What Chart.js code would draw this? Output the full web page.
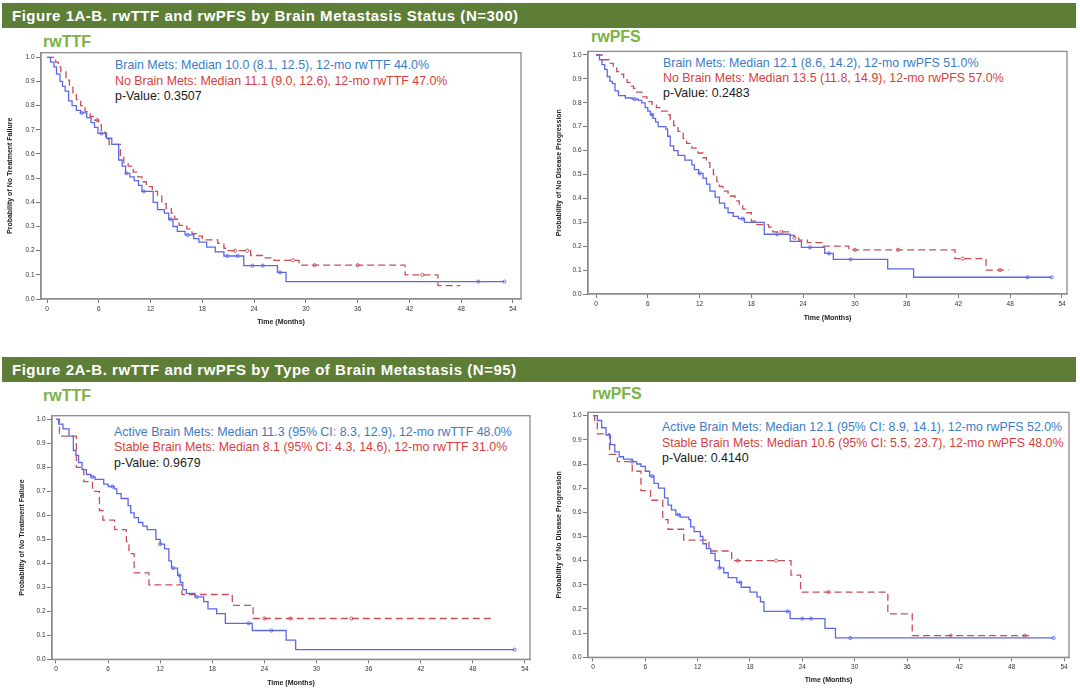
<!DOCTYPE html>
<html>
<head>
<meta charset="utf-8">
<script src="https://cdn.jsdelivr.net/npm/chart.js@4.4.1/dist/chart.umd.min.js"></script>
<style>
  body { margin: 0; background: #fff; font-family: "Liberation Sans", Arial, sans-serif; }
  #page { position: relative; width: 1080px; height: 696px; overflow: hidden; }
  .bar { position: absolute; left: 2px; width: 1074px; height: 25px; background: #5e7e37; color: #fff;
         font-weight: bold; font-size: 15px; line-height: 26px; padding-left: 10px; box-sizing: border-box; letter-spacing: 0.52px; }
  .tag { position: absolute; color: #7ab245; font-weight: bold; font-size: 16px; }
  .note { position: absolute; font-size: 12.4px; line-height: 15.3px; white-space: nowrap; }
  .note .b { color: #3c7cc6; }
  .note .r { color: #d8403b; }
  .note .k { color: #1a1a1a; }
  canvas { position: absolute; }
</style>
</head>
<body>
<div id="page">
  <div class="bar" style="top:3px">Figure 1A-B. rwTTF and rwPFS by Brain Metastasis Status (N=300)</div>
  <div class="bar" style="top:357px">Figure 2A-B. rwTTF and rwPFS by Type of Brain Metastasis (N=95)</div>

  <div class="tag" style="left:43px;top:33px">rwTTF</div>
  <div class="tag" style="left:591px;top:28px">rwPFS</div>
  <div class="tag" style="left:43px;top:387px">rwTTF</div>
  <div class="tag" style="left:592px;top:385px">rwPFS</div>

  <div class="note" style="left:115px;top:58.3px">
    <div class="b">Brain Mets: Median 10.0 (8.1, 12.5), 12-mo rwTTF 44.0%</div>
    <div class="r">No Brain Mets: Median 11.1 (9.0, 12.6), 12-mo rwTTF 47.0%</div>
    <div class="k">p-Value: 0.3507</div>
  </div>
  <div class="note" style="left:663px;top:55.7px">
    <div class="b">Brain Mets: Median 12.1 (8.6, 14.2), 12-mo rwPFS 51.0%</div>
    <div class="r">No Brain Mets: Median 13.5 (11.8, 14.9), 12-mo rwPFS 57.0%</div>
    <div class="k">p-Value: 0.2483</div>
  </div>
  <div class="note" style="left:114px;top:425px">
    <div class="b">Active Brain Mets: Median 11.3 (95% CI: 8.3, 12.9), 12-mo rwTTF 48.0%</div>
    <div class="r">Stable Brain Mets: Median 8.1 (95% CI: 4.3, 14.6), 12-mo rwTTF 31.0%</div>
    <div class="k">p-Value: 0.9679</div>
  </div>
  <div class="note" style="left:662px;top:420.3px">
    <div class="b">Active Brain Mets: Median 12.1 (95% CI: 8.9, 14.1), 12-mo rwPFS 52.0%</div>
    <div class="r">Stable Brain Mets: Median 10.6 (95% CI: 5.5, 23.7), 12-mo rwPFS 48.0%</div>
    <div class="k">p-Value: 0.4140</div>
  </div>

  <canvas id="c1"></canvas>
  <canvas id="c2"></canvas>
  <canvas id="c3"></canvas>
  <canvas id="c4"></canvas>
</div>

<script>
// axis ticks
const timeTicks = [0, 6, 12, 18, 24, 30, 36, 42, 48, 54];
const probTicks = [0, 0.1, 0.2, 0.3, 0.4, 0.5, 0.6, 0.7, 0.8, 0.9, 1.0];

// Fig 1A rwTTF - Brain Mets / No Brain Mets
const ttfBrainTime = [0,0.4,0.8,1.1,1.5,1.8,2.1,2.5,2.9,3.4,3.9,4.6,5.1,5.5,5.9,6.9,7.5,8.3,8.7,9.1,9.6,10.1,10.6,11.0,12.3,12.8,13.6,14.1,14.6,15.1,16.0,17.0,17.6,18.5,19.5,20.5,22.8,26.7,27.7,53.0];
const ttfBrainSurv = [1.00,0.98,0.96,0.93,0.90,0.88,0.86,0.82,0.80,0.78,0.77,0.75,0.73,0.71,0.685,0.665,0.64,0.575,0.55,0.52,0.505,0.49,0.47,0.445,0.40,0.37,0.355,0.33,0.30,0.28,0.265,0.25,0.235,0.215,0.195,0.178,0.138,0.11,0.072,0.072];
const ttfBrainCens = [4.0, 6.3, 9.2, 11.2, 14.3, 16.3, 20.9, 22.1, 23.8, 25.0, 27.0, 50.0, 53.0];
const ttfNoBrainTime = [0,1.0,1.3,1.6,2.2,2.6,3.0,3.4,3.9,4.4,5.0,5.5,6.0,6.3,6.8,7.2,8.5,8.9,9.4,10.0,10.5,11.0,11.5,12.2,12.8,13.3,13.8,14.4,14.8,15.3,16.2,16.8,17.3,18.0,19.8,20.5,21.0,23.6,25.0,26.3,29.2,41.5,45.3,47.9];
const ttfNoBrainSurv = [1.0,0.98,0.96,0.94,0.905,0.88,0.85,0.825,0.80,0.775,0.755,0.74,0.72,0.69,0.66,0.64,0.59,0.56,0.55,0.525,0.505,0.485,0.465,0.445,0.425,0.395,0.375,0.355,0.33,0.305,0.29,0.27,0.26,0.245,0.23,0.21,0.20,0.18,0.17,0.16,0.14,0.10,0.055,0.055];
const ttfNoBrainCens = [5.8, 21.8, 23.2, 28.5, 31.0, 36.0, 43.5];

// Fig 1B rwPFS - Brain Mets / No Brain Mets
const pfsBrainTime = [0,0.4,0.7,1.0,1.3,1.6,1.9,2.2,2.6,3.4,4.2,4.9,5.3,5.7,6.0,6.3,6.6,6.9,7.2,8.1,8.3,8.6,9.0,9.5,10.3,11.1,11.4,11.9,12.4,12.8,13.2,13.8,14.3,14.9,15.3,15.9,16.5,17.2,19.5,22.5,23.8,26.5,27.5,33.8,36.8,52.8];
const pfsBrainSurv = [1.00,0.98,0.96,0.94,0.91,0.89,0.88,0.85,0.83,0.82,0.815,0.81,0.80,0.78,0.765,0.75,0.735,0.72,0.70,0.69,0.66,0.62,0.60,0.58,0.56,0.54,0.52,0.505,0.485,0.46,0.43,0.405,0.38,0.36,0.34,0.325,0.315,0.30,0.25,0.22,0.195,0.17,0.145,0.105,0.07,0.07];
const pfsBrainCens = [4.5, 6.5, 12.0, 17.0, 21.0, 24.8, 27.0, 29.5, 50.0, 52.8];
const pfsNoBrainTime = [0,0.7,1.5,2.0,2.4,2.8,3.2,3.6,4.0,4.35,4.7,5.3,5.9,6.5,7.0,7.6,8.3,8.6,9.0,9.5,10.1,10.5,11.1,11.8,12.4,12.8,13.2,13.6,14.0,14.3,14.7,15.3,16.1,16.6,17.0,17.4,18.0,18.5,20.0,20.5,22.3,23.0,23.5,24.5,26.3,29.3,41.6,45.2,47.8];
const pfsNoBrainSurv = [1.0,0.98,0.965,0.95,0.93,0.92,0.90,0.885,0.87,0.86,0.845,0.825,0.805,0.79,0.78,0.765,0.75,0.73,0.705,0.68,0.65,0.63,0.61,0.59,0.57,0.55,0.525,0.50,0.47,0.45,0.43,0.41,0.39,0.375,0.355,0.34,0.305,0.29,0.28,0.26,0.245,0.235,0.225,0.215,0.20,0.185,0.148,0.10,0.10];
const pfsNoBrainCens = [21.5, 23.0, 30.0, 35.0, 42.5, 46.8];

// Fig 2A rwTTF - Active / Stable Brain Mets
const ttfActiveTime = [0,0.3,0.8,1.5,2.0,2.3,2.6,3.0,3.5,4.0,4.5,5.5,6.0,6.7,7.0,7.5,8.3,8.6,9.0,9.5,10.0,10.5,11.5,12.0,12.5,13.0,13.3,14.0,14.3,14.6,15.0,16.0,17.0,17.5,18.5,19.5,22.6,26.5,27.6,52.8];
const ttfActiveSurv = [1.0,0.98,0.96,0.93,0.87,0.85,0.82,0.79,0.77,0.76,0.75,0.73,0.72,0.71,0.69,0.67,0.64,0.61,0.59,0.57,0.555,0.54,0.50,0.48,0.46,0.41,0.38,0.35,0.32,0.29,0.275,0.26,0.24,0.21,0.19,0.15,0.12,0.08,0.04,0.04];
const ttfActiveCens = [4.2, 6.5, 12.0, 13.5, 14.2, 16.2, 22.2, 24.8, 52.8];
const ttfStableTime = [0,0.4,2.35,3.2,4.2,5.0,5.4,6.75,8.1,8.4,9.0,10.7,14.5,20.3,22.7,50.1];
const ttfStableSurv = [1.0,0.93,0.80,0.74,0.70,0.62,0.58,0.54,0.49,0.44,0.36,0.31,0.27,0.225,0.17,0.17];
const ttfStableCens = [24.0, 27.0, 34.0];

// Fig 2B rwPFS - Active / Stable Brain Mets
const pfsActiveTime = [0,0.5,1.0,1.5,2.0,2.5,3.0,3.5,4.5,5.0,5.5,6.0,6.5,7.0,7.5,8.2,8.6,9.0,9.5,10.0,11.0,11.2,11.6,12.3,12.6,13.0,13.5,14.0,14.5,15.0,15.5,16.5,17.0,18.0,18.8,19.2,19.6,22.6,26.6,27.8,52.8];
const pfsActiveSurv = [1.0,0.98,0.95,0.92,0.88,0.85,0.83,0.82,0.81,0.80,0.79,0.77,0.75,0.72,0.70,0.66,0.63,0.61,0.59,0.58,0.57,0.54,0.52,0.50,0.47,0.45,0.43,0.40,0.37,0.35,0.33,0.31,0.29,0.27,0.25,0.23,0.19,0.16,0.12,0.08,0.08];
const pfsActiveCens = [4.5, 6.8, 9.8, 14.5, 16.9, 22.3, 24.0, 25.0, 29.5, 52.8];
const pfsStableTime = [0,0.2,0.5,1.9,2.8,4.5,5.5,6.6,8.0,8.6,10.4,13.3,15.9,22.7,23.8,33.8,36.6,50.1];
const pfsStableSurv = [1.0,0.98,0.925,0.84,0.81,0.77,0.69,0.65,0.57,0.53,0.485,0.44,0.40,0.34,0.27,0.18,0.09,0.09];
const pfsStableCens = [16.6, 21.0, 27.0, 41.0, 49.5];

const BLUE = '#5d68e6';
const RED = '#c84f58';

function stepAt(times, surv, t) {
  let v = surv[0];
  for (let i = 0; i < times.length; i++) {
    if (times[i] <= t) v = surv[i];
  }
  return v;
}

function kmDatasets(times, surv, cens, color, dashed) {
  return [
    {
      data: times.map((t, i) => ({ x: t, y: surv[i] })),
      stepped: true,
      borderColor: color,
      borderWidth: 1.3,
      borderDash: dashed ? [7, 4] : [],
      pointRadius: 0,
      fill: false
    },
    {
      data: cens.map(t => ({ x: t, y: stepAt(times, surv, t) })),
      showLine: false,
      pointStyle: 'circle',
      pointRadius: 1.6,
      borderWidth: 0.9,
      borderColor: color,
      backgroundColor: 'rgba(0,0,0,0)'
    }
  ];
}

const boxPlugin = {
  id: 'box',
  afterDraw(chart) {
    const { ctx, chartArea: a } = chart;
    ctx.save();
    ctx.strokeStyle = '#8c8c8c';
    ctx.lineWidth = 1.3;
    ctx.strokeRect(a.left, a.top, a.right - a.left, a.bottom - a.top);
    ctx.restore();
  }
};

const panels = [
  { id: 'c1', left: 0, top: 46, width: 540, height: 285, yW: 41, padTop: 6.7, padRight: 19, xH: 32,
    xMin: -0.7, xMax: 54.93, yMax: 1.019, yTitlePad: 6, xTitlePad: 4.5,
    yTitle: 'Probability of No Treatment Failure',
    datasets: [...kmDatasets(ttfBrainTime, ttfBrainSurv, ttfBrainCens, BLUE, false),
               ...kmDatasets(ttfNoBrainTime, ttfNoBrainSurv, ttfNoBrainCens, RED, true)] },
  { id: 'c2', left: 540, top: 46, width: 540, height: 285, yW: 48, padTop: 3, padRight: 13, xH: 37,
    xMin: -0.93, xMax: 54.58, yMax: 1.015, yTitlePad: 15, xTitlePad: 9,
    yTitle: 'Probability of No Disease Progression',
    datasets: [...kmDatasets(pfsBrainTime, pfsBrainSurv, pfsBrainCens, BLUE, false),
               ...kmDatasets(pfsNoBrainTime, pfsNoBrainSurv, pfsNoBrainCens, RED, true)] },
  { id: 'c3', left: 0, top: 400, width: 540, height: 296, yW: 52, padTop: 15.7, padRight: 10, xH: 36.7,
    xMin: -0.46, xMax: 54.58, yMax: 1.015, yTitlePad: 18, xTitlePad: 9,
    yTitle: 'Probability of No Treatment Failure',
    datasets: [...kmDatasets(ttfActiveTime, ttfActiveSurv, ttfActiveCens, BLUE, false),
               ...kmDatasets(ttfStableTime, ttfStableSurv, ttfStableCens, RED, true)] },
  { id: 'c4', left: 540, top: 400, width: 540, height: 296, yW: 48, padTop: 12.3, padRight: 11, xH: 38.7,
    xMin: -0.57, xMax: 54.57, yMax: 1.014, yTitlePad: 15, xTitlePad: 11.8,
    yTitle: 'Probability of No Disease Progression',
    datasets: [...kmDatasets(pfsActiveTime, pfsActiveSurv, pfsActiveCens, BLUE, false),
               ...kmDatasets(pfsStableTime, pfsStableSurv, pfsStableCens, RED, true)] }
];

const tickFont = { family: 'Liberation Sans, Arial', size: 6.5 };
const titleFont = { family: 'Liberation Sans, Arial', size: 7, weight: 'bold' };

panels.forEach(p => {
  const canvas = document.getElementById(p.id);
  canvas.width = p.width;
  canvas.height = p.height;
  canvas.style.left = p.left + 'px';
  canvas.style.top = p.top + 'px';

  new Chart(canvas, {
    type: 'line',
    data: { datasets: p.datasets },
    options: {
      responsive: false,
      animation: false,
      events: [],
      layout: { padding: { left: 0, top: p.padTop, right: p.padRight, bottom: 0 } },
      plugins: { legend: { display: false }, tooltip: { enabled: false } },
      scales: {
        x: {
          type: 'linear',
          min: p.xMin,
          max: p.xMax,
          afterBuildTicks: s => { s.ticks = timeTicks.map(v => ({ value: v })); },
          afterFit: s => { s.height = p.xH; },
          ticks: { font: tickFont, color: '#333', padding: 2.5, maxRotation: 0, callback: v => String(v) },
          grid: { drawOnChartArea: false, drawTicks: true, tickLength: 4, color: '#777' },
          border: { display: true, color: '#8c8c8c', width: 1.3 },
          title: { display: true, text: 'Time (Months)', font: titleFont, color: '#222',
                   padding: { top: 0, bottom: p.xTitlePad } }
        },
        y: {
          type: 'linear',
          min: 0,
          max: p.yMax,
          afterBuildTicks: s => { s.ticks = probTicks.map(v => ({ value: v })); },
          afterFit: s => { s.width = p.yW; },
          ticks: { font: tickFont, color: '#333', padding: 1.5, callback: v => v.toFixed(1) },
          grid: { drawOnChartArea: false, drawTicks: true, tickLength: 5, color: '#777' },
          border: { display: true, color: '#8c8c8c', width: 1.3 },
          title: { display: true, text: p.yTitle, font: titleFont, color: '#222',
                   padding: { top: p.yTitlePad, bottom: 0 } }
        }
      }
    },
    plugins: [boxPlugin]
  });
});
</script>
</body>
</html>
